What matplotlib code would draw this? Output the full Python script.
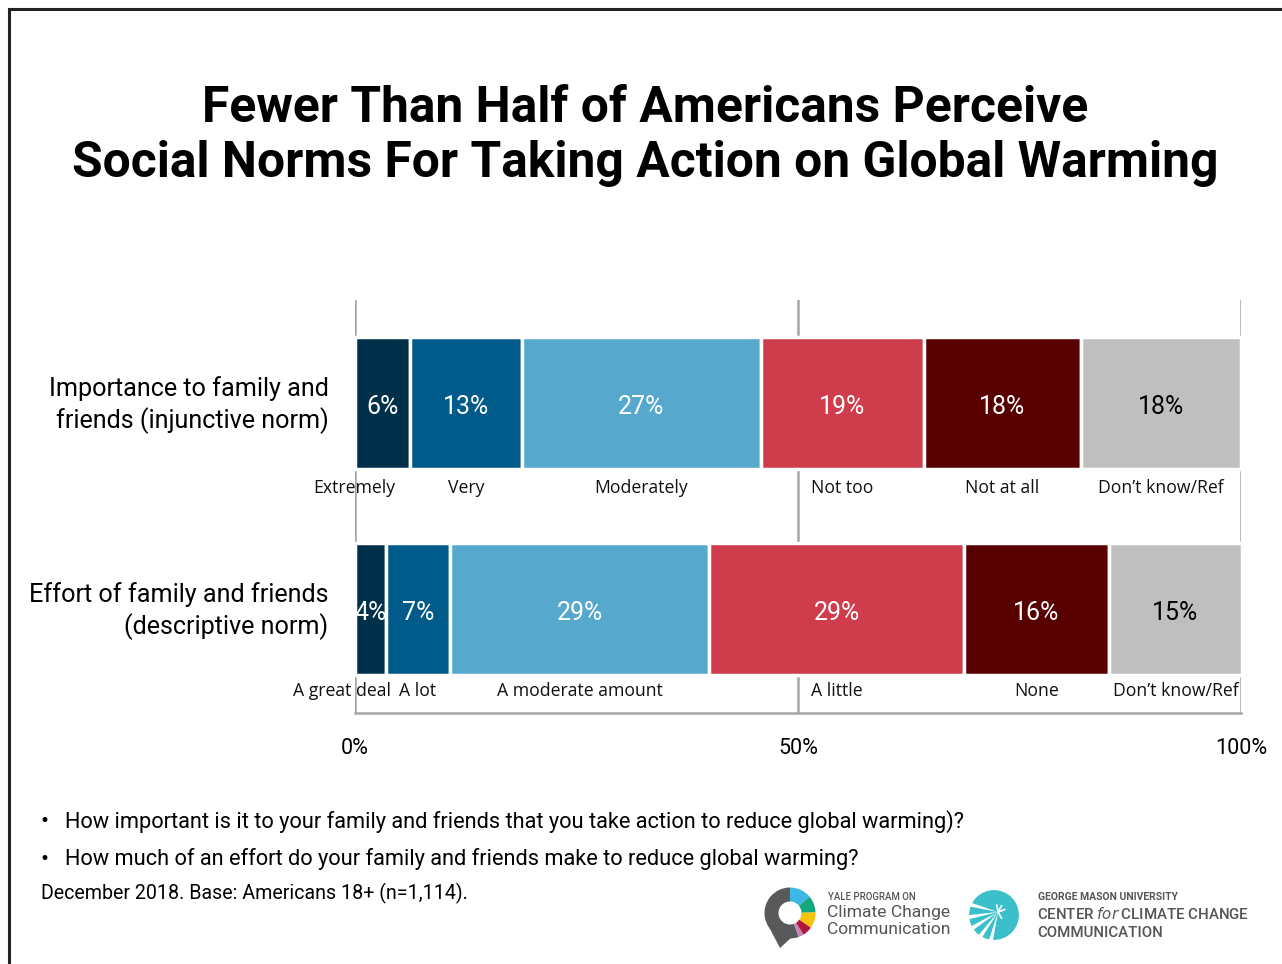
import numpy as np
import matplotlib
matplotlib.use("Agg")
import matplotlib.pyplot as plt
from matplotlib.patches import Wedge, Circle, Polygon
from matplotlib.lines import Line2D

# ---------------- data ----------------
questions = ["Importance to family and\nfriends (injunctive norm)",
             "Effort of family and friends\n(descriptive norm)"]
row1_values = [6.2, 12.6, 27.0, 18.4, 17.7, 18.1]
row1_labels = ["6%", "13%", "27%", "19%", "18%", "18%"]
row1_cats = ["Extremely", "Very", "Moderately", "Not too", "Not at all", "Don\u2019t know/Ref"]
row2_values = [3.5, 7.2, 29.3, 28.7, 16.4, 15.0]
row2_labels = ["4%", "7%", "29%", "29%", "16%", "15%"]
row2_cats = ["A great deal", "A lot", "A moderate amount", "A little", "None", "Don\u2019t know/Ref"]
x_ticks = [0, 50, 100]
x_tick_labels = ["0%", "50%", "100%"]

colors = ["#00304a", "#005b8a", "#56a8cd", "#cf3c4c", "#580000", "#bfbfbf"]
text_colors = ["white", "white", "white", "white", "white", "black"]

title = "Fewer Than Half of Americans Perceive\nSocial Norms For Taking Action on Global Warming"
bullets = ["How important is it to your family and friends that you take action to reduce global warming)?",
           "How much of an effort do your family and friends make to reduce global warming?"]
base_note = "December 2018. Base: Americans 18+ (n=1,114)."

# ---------------- figure ----------------
W, H = 1282, 964
fig = plt.figure(figsize=(W / 100, H / 100), dpi=100)
fig.patch.set_facecolor("white")

def fx(px):
    return px / W

def fy(py):
    return 1 - py / H

# frame (left and top edges visible)
fig.add_artist(Line2D([fx(9), fx(9)], [fy(9), fy(970)], color="#222222", lw=2.2, transform=fig.transFigure))
fig.add_artist(Line2D([fx(9), fx(1300)], [fy(9), fy(9)], color="#222222", lw=2.2, transform=fig.transFigure))

# title
fig.text(fx(645), fy(136), title, ha="center", va="center", fontsize=35.8, fontweight="bold",
         family="Roboto", linespacing=1.22, color="black")

# main axes
ax = fig.add_axes([fx(355), fy(713), fx(1241) - fx(355), fy(300) - fy(713)])
ax.set_xlim(0, 100)
ax.set_ylim(1.505, -0.5)
for s in ["top", "right", "left"]:
    ax.spines[s].set_visible(False)
ax.spines["bottom"].set_color("#a6a6a6")
ax.spines["bottom"].set_linewidth(1.8)
ax.set_yticks([])
ax.set_xticks(x_ticks)
ax.set_xticklabels(x_tick_labels, fontsize=15.5, family="Roboto")
ax.tick_params(axis="x", length=0, pad=18)
for xv in x_ticks:
    ax.axvline(xv, color="#a6a6a6", lw=1.8, zorder=0)

bar_h = 0.64
sub_off = [0.415, 0.40]
rows = [(row1_values, row1_labels, row1_cats), (row2_values, row2_labels, row2_cats)]
for i, (vals, labs, cats) in enumerate(rows):
    lefts = np.concatenate([[0], np.cumsum(vals)[:-1]])
    ax.barh([i] * len(vals), vals, left=lefts, height=bar_h, color=colors,
            edgecolor="white", linewidth=2.5, zorder=2)
    for j, (v, l, lab, c) in enumerate(zip(vals, lefts, labs, cats)):
        cx = l + v / 2
        ax.text(cx, i + 0.018, lab, ha="center", va="center", fontsize=18, color=text_colors[j],
                family="Roboto", zorder=3)
        off = -3.2 if j == 0 else 0
        ax.text(cx + off, i + sub_off[i], c, ha="center", va="center", fontsize=12.7,
                family="Open Sans", color="#111111", zorder=3)
    ax.text(-3, i + 0.01, questions[i], ha="right", va="center", fontsize=18.1, family="Roboto",
            linespacing=1.3)

# bullets and note
for k, b in enumerate(bullets):
    yy = 822 + 37 * k
    fig.text(fx(40), fy(yy), "\u2022", ha="left", va="center", fontsize=17, family="Roboto")
    fig.text(fx(65), fy(yy), b, ha="left", va="center", fontsize=15.65, family="Roboto")
fig.text(fx(41), fy(893), base_note, ha="left", va="center", fontsize=14.1, family="Roboto")

# ---------------- logos ----------------
lax = fig.add_axes([0, 0, 1, 1], zorder=5)
lax.set_xlim(0, W)
lax.set_ylim(H, 0)
lax.axis("off")
lax.patch.set_alpha(0)

# Yale logo ring
cx0, cy0 = 790, 913
r_out, width = 25.5, 14
ring = [(90, 290, "#58595b"), (290, 302, "#c187b9"),
        (302, 325, "#b5163b"), (325, 362, "#f9c20a"), (362, 400, "#12a77f"), (400, 450, "#3fb7e5")]
for a0, a1, col in ring:
    lax.add_patch(Wedge((cx0, cy0), r_out, -a1, -a0, width=width, color=col, lw=0))
lax.add_patch(Polygon([[769, 927], [792, 937], [780, 948]], closed=True, color="#58595b", lw=0))
lax.text(828, 897, "YALE PROGRAM ON", fontsize=6.9, color="#555555", family="Roboto",
         ha="left", va="center", fontweight="medium")
lax.text(827, 912, "Climate Change", fontsize=12.6, color="#555555", family="Roboto",
         ha="left", va="center")
lax.text(827, 929, "Communication", fontsize=12.6, color="#555555", family="Roboto",
         ha="left", va="center")

# GMU logo
gx, gy = 994, 915
lax.add_patch(Circle((gx, gy), 27, color="#3bbfca", lw=0))
px, py = 998, 912
for ang in [165, 190, 212, 234, 256]:
    a = np.deg2rad(ang)
    L = 40
    lax.add_patch(Polygon([[px, py], [px + L * np.cos(a - 0.07), py - L * np.sin(a - 0.07)],
                           [px + L * np.cos(a + 0.07), py - L * np.sin(a + 0.07)]],
                          closed=True, color="white", lw=0))
for ang in [20, 60, 100, 300]:
    a = np.deg2rad(ang)
    lax.plot([px, px + 7 * np.cos(a)], [py, py - 7 * np.sin(a)], color="white", lw=1.2)
lax.add_patch(Circle((gx, gy), 27, fill=False, ec="white", lw=3))
lax.text(1038, 897, "GEORGE MASON UNIVERSITY", fontsize=7.5, color="#555555", family="Roboto",
         ha="left", va="center", fontweight="bold")
lax.text(1037, 914, "CENTER $\\it{for}$ CLIMATE CHANGE", fontsize=10.8, color="#555555",
         family="Roboto", ha="left", va="center", fontweight="medium")
lax.text(1037, 933, "COMMUNICATION", fontsize=10.8, color="#555555", family="Roboto",
         ha="left", va="center", fontweight="medium")

fig.savefig("out.png", dpi=100, facecolor="white")
